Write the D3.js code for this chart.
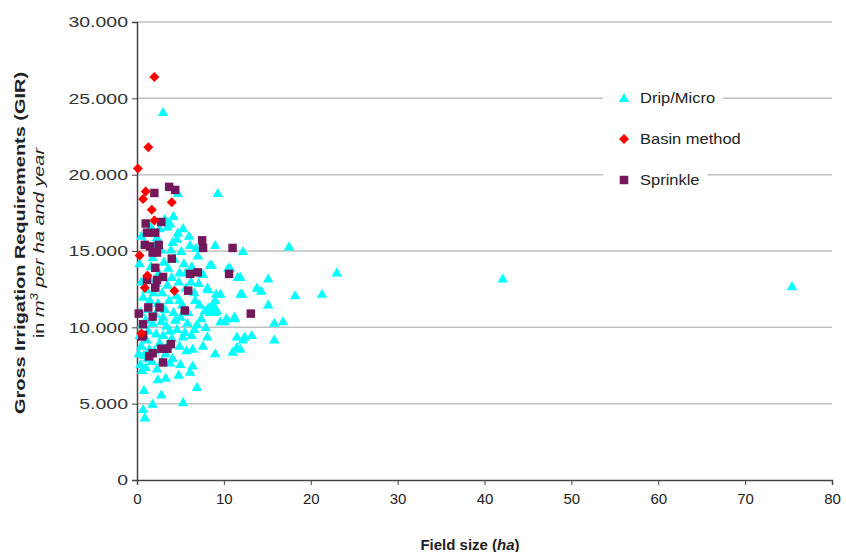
<!DOCTYPE html>
<html>
<head>
<meta charset="utf-8">
<script src="https://cdn.jsdelivr.net/npm/d3@7"></script>
<style>
  body { margin: 0; background: #fff; }
  svg { display: block; font-family: "Liberation Sans", Arial, sans-serif; }
</style>
</head>
<body>
<div class="vis-scatter"></div>
<script>
// field size (ha), GIR (m3 per ha and year)
const dripMicro = [
  [3.0,24100],[75.4,12700],[42.1,13200],[9.3,18800],[4.7,18800],
  [12.2,15000],[17.5,15300],[23.0,13600],[11.9,13300],[15.1,13200],[12.1,12200],[14.3,12400],
  [18.2,12100],[21.3,12200],[15.1,11500],[15.8,10300],[16.8,10400],[12.2,9200],[13.2,9500],
  [15.8,9200],[11.9,8600],
  [9.0,15400],[8.6,14100],[10.7,13900],[8.2,12500],[9.1,12200],[9.6,12200],[9.0,11800],
  [9.0,11300],[8.4,11000],[9.0,11000],[11.2,10700],[9.6,10400],[10.1,10400],[8.2,11300],
  [3.8,16800],[4.7,16200],[4.1,15600],[6.1,15400],[7.0,14700],[8.4,14100],[10.5,13900],
  [6.3,14000],[4.9,13600],[8.1,12600],[11.6,13300],[13.8,12600],[4.9,11800],[6.7,11800],
  [11.9,12200],[7.2,11500],[7.8,11100],[8.7,11500],[9.2,11100],[10.3,10600],[11.3,10600],
  [6.9,10200],[5.8,10300],[4.4,10500],[3.0,10700],[3.8,9800],[5.3,9400],[8.1,9400],[11.5,9400],
  [12.4,9400],
  [0.8,5900],[2.8,5600],[1.8,5000],[5.3,5100],[6.9,6100],[0.7,4650],[0.9,4100],[2.4,6600],
  [3.3,6700],[4.8,6900],[6.1,7100],[6.4,7500],[4.1,8000],[6.4,8600],[7.6,8800],[9.0,8300],
  [11.0,8400],[11.5,8700],[6.3,9500],
  [0.3,14200],[0.5,13000],[0.7,12000],[0.4,11000],[0.6,10200],[0.3,9500],[0.5,8800],[0.8,8200],
  [0.4,7600],[0.6,7200],[1.0,7400],[1.2,8000],[1.4,8600],[1.1,9200],[1.3,9800],[1.0,10500],
  [1.2,11200],[1.5,11800],[1.1,12500],[1.4,13200],[1.6,14000],[1.8,14600],[2.0,15300],
  [2.3,15900],[2.6,16500],[3.2,17100],[3.5,16600],[2.8,15100],[3.1,14300],[2.5,13600],
  [2.2,12900],[1.9,12300],[2.4,11600],[2.1,10900],[1.8,10300],[2.2,9600],[2.6,9000],[2.0,8500],
  [1.7,7800],[2.3,7300],[2.9,7800],[3.3,8300],[3.6,8900],[3.0,9500],[3.4,10100],[2.8,10400],
  [3.2,11200],[3.7,11800],[2.9,12300],[3.5,12800],[4.0,13300],[3.6,13900],[4.3,14500],
  [3.9,15100],[4.6,15800],[5.1,15000],[5.4,14200],[4.8,13000],[5.6,12600],[4.5,12100],
  [5.2,11500],[4.2,11000],[5.9,11000],[5.0,10700],[4.6,9900],[5.5,9700],[4.0,9300],[4.9,8800],
  [5.7,8500],[3.8,7700],[5.0,7600],[5.6,13600],[6.2,13000],[6.6,12300],[7.1,12900],[7.6,13500],
  [6.0,16000],[6.8,15200],[5.3,16500],[4.2,17300],[3.7,16900],[0.2,8300],[0.9,15500],
  [0.5,16000],[1.6,16600],[7.4,10600],[6.6,9900],[7.9,10000]
];
const basinMethod = [
  [2.0,26400],[1.3,21800],[0.1,20400],[1.0,18900],[0.7,18400],[1.7,17700],[4.0,18200],
  [2.0,17000],[0.3,14700],[1.2,13400],[0.9,12600],[4.3,12400],[0.5,9600]
];
const sprinkle = [
  [3.7,19200],[4.4,19000],[2.0,18800],[1.0,16800],[2.8,16900],[1.15,16200],[2.1,16200],
  [7.5,15700],[7.6,15200],[11.0,15200],[0.9,15400],[1.5,15300],[2.5,15400],[1.8,14900],
  [2.3,14900],[4.0,14500],[2.1,13900],[3.0,13300],[1.15,13100],[2.3,13100],[2.1,12600],
  [6.1,13500],[7.0,13600],[10.6,13500],[5.9,12400],[5.5,11100],[13.1,10900],[1.3,11300],
  [2.6,11300],[1.8,10700],[0.2,10900],[0.7,10200],[0.7,9500],[0.6,9400],[1.4,8100],
  [1.8,8300],[2.8,8600],[3.9,8900],[3.0,7700],[3.5,8600]
];
const xTicks = [0, 10, 20, 30, 40, 50, 60, 70, 80];
const yTicks = [0, 5000, 10000, 15000, 20000, 25000, 30000];
const seriesNames = ["Drip/Micro", "Basin method", "Sprinkle"];
const seriesColors = ["#00ffff", "#ff0000", "#74185c"];

const W = 846, H = 552;
const margin = { top: 22, right: 14, bottom: 72, left: 137 };

const svg = d3.select(".vis-scatter").append("svg")
  .attr("width", W).attr("height", H);

const x = d3.scaleLinear().domain([0, 80]).range([margin.left, W - margin.right]);
const y = d3.scaleLinear().domain([0, 30000]).range([H - margin.bottom, margin.top]);

const fmt = v => d3.format(",")(v).replace(/,/g, ".");

// gridlines
svg.append("g")
  .selectAll("line")
  .data(yTicks.filter(d => d > 0))
  .join("line")
    .attr("x1", x(0)).attr("x2", x(80))
    .attr("y1", d => y(d)).attr("y2", d => y(d))
    .attr("stroke", "#c0c0c0")
    .attr("stroke-width", 1.5);

// axes
svg.append("g")
  .attr("transform", `translate(0,${y(0)})`)
  .call(d3.axisBottom(x).tickValues(xTicks).tickSize(5).tickPadding(8))
  .call(g => g.select(".domain").attr("stroke", "#444").attr("stroke-width", 1.5))
  .call(g => g.selectAll(".tick line").attr("stroke", "#444"))
  .call(g => g.selectAll(".tick text")
    .attr("font-size", 15).attr("fill", "#222")
    .attr("font-family", "'Liberation Sans', Arial, sans-serif"));

// y labels are drawn wider than the x ones in the original
const yStretch = 1.3;
svg.append("g")
  .attr("transform", `translate(${x(0)},0)`)
  .call(d3.axisLeft(y).tickValues(yTicks).tickFormat(fmt).tickSize(5).tickPadding(5))
  .call(g => g.select(".domain").attr("stroke", "#444").attr("stroke-width", 1.5))
  .call(g => g.selectAll(".tick line").attr("stroke", "#444"))
  .call(g => g.selectAll(".tick text")
    .attr("font-size", 15).attr("fill", "#333")
    .attr("x", -9 / yStretch)
    .attr("transform", `scale(${yStretch},1)`)
    .attr("font-family", "'Liberation Sans', Arial, sans-serif"));

// markers
const tri = d3.symbol().type(d3.symbolTriangle).size(48);
const sq = d3.symbol().type(d3.symbolSquare).size(72);
const dia = d3.symbol().type(d3.symbolSquare).size(50);

svg.append("g").selectAll("path")
  .data(dripMicro)
  .join("path")
    .attr("d", tri)
    .attr("transform", d => `translate(${x(d[0])},${y(d[1]) + 1})`)
    .attr("fill", seriesColors[0]);

svg.append("g").selectAll("path")
  .data(sprinkle)
  .join("path")
    .attr("d", sq)
    .attr("transform", d => `translate(${x(d[0])},${y(d[1])})`)
    .attr("fill", seriesColors[2]);

svg.append("g").selectAll("path")
  .data(basinMethod)
  .join("path")
    .attr("d", dia)
    .attr("transform", d => `translate(${x(d[0])},${y(d[1])}) rotate(45)`)
    .attr("fill", seriesColors[1]);

// legend
const legend = svg.append("g").attr("transform", "translate(603,0)");
const legendY = [98, 139, 180];
const symbols = [tri, dia, sq];
const lStretch = 1.1;
seriesNames.forEach((name, i) => {
  const row = legend.append("g").attr("transform", `translate(0,${legendY[i]})`);
  const t = row.append("text")
    .attr("x", 37 / lStretch).attr("y", 5)
    .attr("transform", `scale(${lStretch},1)`)
    .attr("font-size", 15).attr("fill", "#222")
    .text(name);
  const w = t.node().getComputedTextLength() * lStretch;
  row.insert("rect", "text")
    .attr("x", 0).attr("y", -11).attr("width", 37 + w + 8).attr("height", 22)
    .attr("fill", "#fff");
  row.append("path")
    .attr("d", symbols[i])
    .attr("transform", `translate(21,${i === 0 ? 1 : 0})${i === 1 ? " rotate(45)" : ""}`)
    .attr("fill", seriesColors[i]);
});

// axis titles
const tStretch = 1.33;
const yTitle = svg.append("g")
  .attr("transform", `translate(0,243) rotate(-90) scale(${tStretch},1)`);
yTitle.append("text")
  .attr("x", 0).attr("y", 25)
  .attr("text-anchor", "middle")
  .attr("font-size", 15).attr("font-weight", "bold").attr("fill", "#222")
  .text("Gross Irrigation Requirements (GIR)");
const sub = yTitle.append("text")
  .attr("x", 0).attr("y", 44)
  .attr("text-anchor", "middle")
  .attr("font-size", 15).attr("fill", "#222");
sub.append("tspan").text("in ");
sub.append("tspan").attr("font-style", "italic").text("m");
sub.append("tspan").attr("font-style", "italic").attr("font-size", 10).attr("dy", -6).text("3");
sub.append("tspan").attr("font-style", "italic").attr("dy", 6).text(" per ha and year");

const xTitle = svg.append("text")
  .attr("x", 470).attr("y", 550)
  .attr("text-anchor", "middle")
  .attr("font-size", 15).attr("font-weight", "bold").attr("fill", "#222");
xTitle.append("tspan").text("Field size (");
xTitle.append("tspan").attr("font-style", "italic").text("ha");
xTitle.append("tspan").text(")");
</script>
</body>
</html>
